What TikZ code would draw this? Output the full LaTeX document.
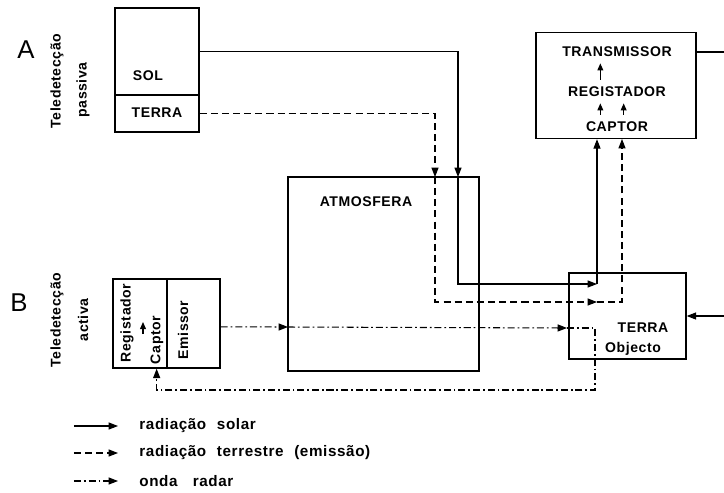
\documentclass[tikz,border=0pt]{standalone}
\usepackage{fontspec}
\setmainfont{Liberation Sans}
\newfontfamily\lblfont[LetterSpace=4]{Liberation Sans Bold}
\usepackage{tikz}
\usetikzlibrary{arrows.meta}

\begin{document}
\begin{tikzpicture}[
			x=0.03cm, y=-0.03cm,
			% Define the styles for the boxes and the lines
			every node/.style={font=\lblfont\fontsize{12}{14}\selectfont, inner sep=1pt},
			box/.style={draw, line width=1.2pt, inner sep=0pt},
			tip/.style={-{Triangle[length=8pt,width=6pt]}},
			solar/.style={line width=0.9pt},
			terrestre/.style={line width=0.9pt, dash pattern=on 6pt off 3.5pt},
			radar/.style={line width=0.9pt, dash pattern=on 6pt off 2.5pt on 1.5pt off 2.5pt},
			small/.style={line width=0.9pt, -{Triangle[length=6pt,width=5pt]}, shorten >=1.5mm, shorten <=1.8mm},
			legend/.style={font=\lblfont\fontsize{13}{15}\selectfont, anchor=west},
			big/.style={font=\fontsize{22}{24}\selectfont}
			]
			
			\useasboundingbox (0,0) rectangle (724,492);
			
			% boxes
			\node (sol) at (157,51.5) [box, minimum width=2.52cm, minimum height=2.61cm] {};
			\node (terA) at (157,113.5) [box, minimum width=2.52cm, minimum height=1.11cm] {};
			\node (atmos) at (383.5,274) [box, line width=2.2pt, minimum width=5.73cm, minimum height=5.82cm] {};
			\node (obj) at (627.5,316) [box, minimum width=3.51cm, minimum height=2.58cm] {};
			\node (sens) at (616,85.5) [box, minimum width=4.8cm, minimum height=3.18cm] {};
			\node (regB) at (140,323.5) [box, minimum width=1.62cm, minimum height=2.67cm] {};
			\node (emis) at (193.5,323.5) [box, minimum width=1.59cm, minimum height=2.67cm] {};
			
			% texts
			\node (solT) at (148,76) {SOL};
			\node (terAT) at (157,113) {TERRA};
			\node (atmT) at (366,202) {ATMOSFERA};
			\node (objT) at (643,328) {TERRA};
			\node (objO) at (633,349) {Objecto};
			\node (trans) at (617,52) {TRANSMISSOR};
			\node (regA) at (617,92) {REGISTADOR};
			\node (capA) at (617,127) {CAPTOR};
			\node (regT) at (127,323) [rotate=90] {Registador};
			\node (capT) at (157,340) [rotate=90] {Captor};
			\node (emiT) at (183,330) [rotate=90] {Emissor};
			
			\node (A) at (26,50) [big] {A};
			\node (B) at (19,303) [big] {B};
			\node (telA) at (57,81) [rotate=90] {Teledetecção};
			\node (pasA) at (83,90) [rotate=90] {passiva};
			\node (telB) at (57,320) [rotate=90] {Teledetecção};
			\node (actB) at (83,320) [rotate=90] {activa};
			
			\coordinate (sa) at (458,177);
			\coordinate (sb) at (597,284);
			\coordinate (ta) at (435,177);
			\coordinate (tb) at (597,302);
			\coordinate (tc) at (622,139);
			\coordinate (ra) at (288,327);
			\coordinate (rb) at (567,328);
			\coordinate (rc) at (595,390);
			\coordinate (rk) at (143,334);
			\coordinate (ein) at (724,316);
			\coordinate (eout) at (724,52);
			
			% radiacao solar
			\draw[solar, tip] (sol.east) -| (sa);
			\draw[solar, tip] (sa) |- (sb);
			\draw[solar, tip] (sb) -- (sb |- sens.south);
			\draw[solar, tip] (ein) -- (obj.east);
			\draw[solar] (sens.east |- eout) -- (eout);
			
			% radiacao terrestre
			\draw[terrestre, tip] (terA.east) -| (ta);
			\draw[terrestre, tip] (ta) |- (tb);
			\draw[terrestre, tip] (tb) -| (tc);
			
			% onda radar
			\draw[radar, tip] ([yshift=-1mm]emis.east) -- (ra);
			\draw[radar, tip] (ra) -- (rb);
			\draw[radar, tip] (rb) -| (rc) -| ([xshift=5mm]regB.south);
			
			\draw[small] ([xshift=-5mm]regA.north) -- ([xshift=-5mm]trans.south);
			\draw[small] ([xshift=-5mm]capA.north) -- ([xshift=-5mm]regA.south);
			\draw[small] ([xshift=2mm]capA.north) -- ([xshift=2mm]regA.south);
			\draw[solar, -{Triangle[length=6pt,width=5pt]}] (rk) -- ++(0,-12);
			
			% legend
			\node (leg1) at (138,426) [legend] {radiação\hspace{0.7em}solar};
			\node (leg2) at (138,453) [legend] {radiação\hspace{0.7em}terrestre\hspace{0.7em}(emissão)};
			\node (leg3) at (138,481) [legend] {onda\hspace{1em}radar};
			\draw[solar, tip] ([xshift=-1.92cm]leg1.west) -- ([xshift=-0.6cm]leg1.west);
			\draw[terrestre, tip] ([xshift=-1.92cm]leg2.west) -- ([xshift=-0.6cm]leg2.west);
			\draw[radar, tip] ([xshift=-1.92cm]leg3.west) -- ([xshift=-0.6cm]leg3.west);
			
		\end{tikzpicture}
\end{document}
